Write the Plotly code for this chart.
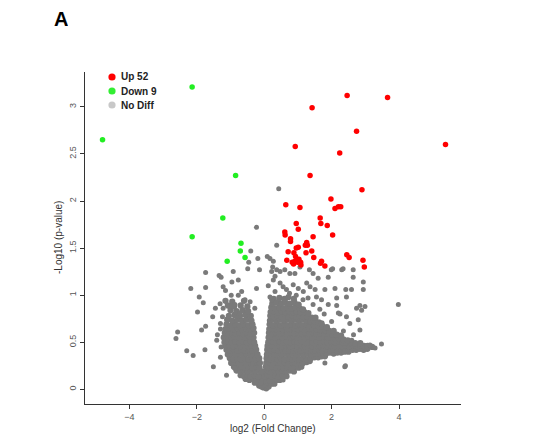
import plotly.graph_objects as go

# significant genes
up_x = [2.46, 3.66, 1.42, 2.74, 0.92, 2.24, 5.38, 1.36, 2.90, 1.98, 0.64, 1.06, 2.10,
        2.20, 2.27, 1.66, 1.68, 1.87, 0.95, 1.01, 2.03, 0.61, 0.62, 1.45, 0.78, 0.78,
        1.26, 1.22, 1.28, 0.95, 1.01, 0.71, 0.88, 0.93, 1.24, 1.41, 1.47, 2.45, 2.52,
        0.67, 0.83, 0.91, 0.99, 1.08, 1.09, 1.70, 1.67, 1.80, 2.93, 2.97, 0.87, 1.03]
up_y = [3.12, 3.10, 2.99, 2.74, 2.58, 2.51, 2.60, 2.27, 2.12, 2.02, 1.96, 1.93, 1.92,
        1.94, 1.94, 1.82, 1.76, 1.74, 1.76, 1.70, 1.64, 1.67, 1.64, 1.62, 1.60, 1.57,
        1.56, 1.53, 1.53, 1.50, 1.51, 1.46, 1.45, 1.41, 1.45, 1.47, 1.40, 1.43, 1.40,
        1.37, 1.35, 1.36, 1.35, 1.35, 1.32, 1.36, 1.34, 1.31, 1.37, 1.30, 1.33, 1.38]

down_x = [-2.14, -4.80, -0.85, -1.23, -2.14, -0.69, -0.71, -0.57, -1.10]
down_y = [3.21, 2.65, 2.27, 1.82, 1.62, 1.55, 1.47, 1.40, 1.36]

# no diff: dense right arm of the cloud
nodiff_right = [
    (-0.02, 0.02), (0.06, 0.01), (0.13, 0.03),
    (-0.08, 0.06), (0.02, 0.05), (0.12, 0.07), (0.21, 0.06), (0.30, 0.06),
    (-0.12, 0.10), (-0.03, 0.11), (0.06, 0.10), (0.17, 0.09), (0.27, 0.11), (0.37, 0.10), (0.46, 0.10),
    (-0.06, 0.15), (0.02, 0.14), (0.11, 0.15), (0.22, 0.14), (0.33, 0.15), (0.44, 0.14), (0.55, 0.15),
    (0.66, 0.14),
    (0.03, 0.19), (0.10, 0.20), (0.21, 0.19), (0.32, 0.20), (0.43, 0.19), (0.54, 0.20), (0.65, 0.19),
    (0.76, 0.20), (0.88, 0.19),
    (0.05, 0.24), (0.14, 0.23), (0.25, 0.24), (0.36, 0.23), (0.47, 0.24), (0.58, 0.23), (0.69, 0.24),
    (0.80, 0.23), (0.91, 0.24), (1.02, 0.23), (1.10, 0.24),
    (0.06, 0.28), (0.16, 0.29), (0.27, 0.28), (0.38, 0.29), (0.49, 0.28), (0.60, 0.29), (0.71, 0.28),
    (0.82, 0.29), (0.93, 0.28), (1.04, 0.29), (1.15, 0.28), (1.26, 0.29), (1.35, 0.30),
    (0.07, 0.33), (0.17, 0.32), (0.28, 0.33), (0.39, 0.32), (0.50, 0.33), (0.61, 0.32), (0.72, 0.33),
    (0.83, 0.32), (0.94, 0.33), (1.05, 0.32), (1.16, 0.33), (1.27, 0.32), (1.38, 0.33), (1.49, 0.34),
    (1.60, 0.34), (1.70, 0.35), (1.80, 0.35),
    (0.08, 0.37), (0.19, 0.38), (0.30, 0.37), (0.41, 0.38), (0.52, 0.37), (0.63, 0.38), (0.74, 0.37),
    (0.85, 0.38), (0.96, 0.37), (1.07, 0.38), (1.18, 0.37), (1.29, 0.38), (1.40, 0.37), (1.51, 0.38),
    (1.62, 0.38), (1.73, 0.39), (1.84, 0.38), (1.95, 0.39), (2.06, 0.38), (2.17, 0.39), (2.28, 0.39),
    (2.39, 0.40), (2.50, 0.40),
    (0.09, 0.42), (0.20, 0.41), (0.31, 0.42), (0.42, 0.41), (0.53, 0.42), (0.64, 0.41), (0.75, 0.42),
    (0.86, 0.41), (0.97, 0.42), (1.08, 0.41), (1.19, 0.42), (1.30, 0.41), (1.41, 0.42), (1.52, 0.41),
    (1.63, 0.42), (1.74, 0.41), (1.85, 0.42), (1.96, 0.41), (2.07, 0.42), (2.18, 0.41), (2.29, 0.42),
    (2.40, 0.41), (2.51, 0.42), (2.62, 0.42), (2.73, 0.42), (2.84, 0.43), (2.95, 0.42), (3.06, 0.43),
    (0.10, 0.46), (0.21, 0.47), (0.32, 0.46), (0.43, 0.47), (0.54, 0.46), (0.65, 0.47), (0.76, 0.46),
    (0.87, 0.47), (0.98, 0.46), (1.09, 0.47), (1.20, 0.46), (1.31, 0.47), (1.42, 0.46), (1.53, 0.47),
    (1.64, 0.46), (1.75, 0.47), (1.86, 0.46), (1.97, 0.47), (2.08, 0.46), (2.19, 0.47), (2.30, 0.46),
    (2.41, 0.47), (2.52, 0.46), (2.63, 0.47), (2.74, 0.46), (2.85, 0.47), (2.96, 0.46), (3.07, 0.46),
    (3.20, 0.45),
    (0.12, 0.50), (0.23, 0.51), (0.34, 0.50), (0.45, 0.51), (0.56, 0.50), (0.67, 0.51), (0.78, 0.50),
    (0.89, 0.51), (1.00, 0.50), (1.11, 0.51), (1.22, 0.50), (1.33, 0.51), (1.44, 0.50), (1.55, 0.51),
    (1.66, 0.50), (1.77, 0.51), (1.88, 0.50), (1.99, 0.51), (2.10, 0.50), (2.21, 0.51), (2.32, 0.50),
    (2.43, 0.50), (2.55, 0.50), (2.70, 0.49), (2.85, 0.49),
    (0.13, 0.55), (0.22, 0.56), (0.33, 0.55), (0.44, 0.56), (0.55, 0.55), (0.66, 0.56), (0.77, 0.55),
    (0.88, 0.56), (0.99, 0.55), (1.10, 0.56), (1.21, 0.55), (1.32, 0.56), (1.43, 0.55), (1.54, 0.56),
    (1.65, 0.55), (1.76, 0.56), (1.87, 0.55), (1.98, 0.55), (2.10, 0.54), (2.22, 0.54), (2.35, 0.53),
    (2.48, 0.52),
    (0.14, 0.60), (0.24, 0.59), (0.35, 0.60), (0.46, 0.59), (0.57, 0.60), (0.68, 0.59), (0.79, 0.60),
    (0.90, 0.59), (1.01, 0.60), (1.12, 0.59), (1.23, 0.60), (1.34, 0.59), (1.45, 0.60), (1.56, 0.59),
    (1.67, 0.60), (1.78, 0.59), (1.90, 0.59), (2.02, 0.58), (2.15, 0.58), (2.28, 0.57),
    (0.15, 0.64), (0.23, 0.65), (0.34, 0.64), (0.45, 0.65), (0.56, 0.64), (0.67, 0.65), (0.78, 0.64),
    (0.89, 0.65), (1.00, 0.64), (1.11, 0.65), (1.22, 0.64), (1.33, 0.65), (1.44, 0.64), (1.55, 0.64),
    (1.67, 0.63), (1.80, 0.63), (1.93, 0.62), (2.06, 0.62),
    (0.16, 0.69), (0.26, 0.68), (0.37, 0.69), (0.48, 0.68), (0.59, 0.69), (0.70, 0.68), (0.81, 0.69),
    (0.92, 0.68), (1.03, 0.69), (1.14, 0.68), (1.25, 0.69), (1.36, 0.68), (1.48, 0.68), (1.60, 0.67),
    (1.73, 0.67), (1.86, 0.66),
    (0.17, 0.73), (0.27, 0.74), (0.38, 0.73), (0.49, 0.74), (0.60, 0.73), (0.71, 0.74), (0.82, 0.73),
    (0.93, 0.74), (1.04, 0.73), (1.15, 0.74), (1.26, 0.73), (1.38, 0.72), (1.50, 0.72), (1.62, 0.71),
    (1.70, 0.70),
    (0.18, 0.78), (0.29, 0.77), (0.40, 0.78), (0.51, 0.77), (0.62, 0.78), (0.73, 0.77), (0.84, 0.78),
    (0.95, 0.77), (1.06, 0.78), (1.17, 0.77), (1.29, 0.77), (1.41, 0.76), (1.52, 0.76),
    (0.19, 0.82), (0.30, 0.83), (0.41, 0.82), (0.52, 0.83), (0.63, 0.82), (0.74, 0.83), (0.85, 0.82),
    (0.96, 0.83), (1.07, 0.82), (1.19, 0.82), (1.31, 0.81),
    (0.21, 0.87), (0.33, 0.86), (0.45, 0.87), (0.57, 0.86), (0.69, 0.87), (0.81, 0.86), (0.93, 0.87),
    (1.05, 0.86), (1.15, 0.85),
    (0.24, 0.91), (0.37, 0.92), (0.50, 0.91), (0.63, 0.92), (0.76, 0.91), (0.90, 0.92), (1.02, 0.90),
    (0.28, 0.96), (0.45, 0.97), (0.60, 0.96), (0.72, 0.98), (0.88, 0.96),
]

# no diff: dense left arm
nodiff_left = [
    (-0.15, 0.04), (-0.08, 0.03),
    (-0.28, 0.07), (-0.20, 0.08), (-0.12, 0.07),
    (-0.55, 0.11), (-0.44, 0.10), (-0.33, 0.11), (-0.24, 0.10),
    (-0.70, 0.15), (-0.60, 0.14), (-0.50, 0.15), (-0.40, 0.14), (-0.30, 0.15), (-0.18, 0.14),
    (-0.82, 0.20), (-0.71, 0.19), (-0.60, 0.20), (-0.49, 0.19), (-0.38, 0.20), (-0.27, 0.19),
    (-0.16, 0.20), (-0.08, 0.19),
    (-0.90, 0.24), (-0.79, 0.23), (-0.68, 0.24), (-0.57, 0.23), (-0.46, 0.24), (-0.35, 0.23),
    (-0.24, 0.24), (-0.14, 0.23),
    (-0.98, 0.28), (-0.87, 0.29), (-0.76, 0.28), (-0.65, 0.29), (-0.54, 0.28), (-0.43, 0.29),
    (-0.32, 0.28), (-0.21, 0.29), (-0.13, 0.28),
    (-1.02, 0.33), (-0.91, 0.32), (-0.80, 0.33), (-0.69, 0.32), (-0.58, 0.33), (-0.47, 0.32),
    (-0.36, 0.33), (-0.25, 0.32), (-0.15, 0.33),
    (-1.08, 0.37), (-0.97, 0.38), (-0.86, 0.37), (-0.75, 0.38), (-0.64, 0.37), (-0.53, 0.38),
    (-0.42, 0.37), (-0.31, 0.38), (-0.20, 0.37),
    (-1.12, 0.42), (-1.01, 0.41), (-0.90, 0.42), (-0.79, 0.41), (-0.68, 0.42), (-0.57, 0.41),
    (-0.46, 0.42), (-0.35, 0.41), (-0.24, 0.42),
    (-1.15, 0.46), (-1.04, 0.47), (-0.93, 0.46), (-0.82, 0.47), (-0.71, 0.46), (-0.60, 0.47),
    (-0.49, 0.46), (-0.38, 0.47), (-0.27, 0.46),
    (-1.18, 0.50), (-1.07, 0.51), (-0.96, 0.50), (-0.85, 0.51), (-0.74, 0.50), (-0.63, 0.51),
    (-0.52, 0.50), (-0.41, 0.51), (-0.30, 0.50),
    (-1.20, 0.55), (-1.09, 0.56), (-0.98, 0.55), (-0.87, 0.56), (-0.76, 0.55), (-0.65, 0.56),
    (-0.54, 0.55), (-0.43, 0.56), (-0.32, 0.55),
    (-1.17, 0.60), (-1.06, 0.59), (-0.95, 0.60), (-0.84, 0.59), (-0.73, 0.60), (-0.62, 0.59),
    (-0.51, 0.60), (-0.40, 0.59), (-0.30, 0.60),
    (-1.15, 0.64), (-1.03, 0.65), (-0.91, 0.64), (-0.79, 0.65), (-0.67, 0.64), (-0.55, 0.65),
    (-0.43, 0.64), (-0.32, 0.65),
    (-1.12, 0.69), (-0.99, 0.68), (-0.86, 0.69), (-0.73, 0.68), (-0.60, 0.69), (-0.47, 0.68),
    (-0.35, 0.69),
    (-1.10, 0.74), (-0.95, 0.73), (-0.80, 0.74), (-0.66, 0.73), (-0.52, 0.74), (-0.38, 0.73),
    (-1.05, 0.78), (-0.88, 0.79), (-0.72, 0.78), (-0.56, 0.79), (-0.40, 0.78),
    (-1.00, 0.84), (-0.82, 0.83), (-0.64, 0.84), (-0.48, 0.83),
    (-1.08, 0.89), (-0.90, 0.88), (-0.70, 0.89), (-0.50, 0.88),
    (-1.15, 0.94), (-0.95, 0.93), (-0.60, 0.94),
]

# no diff: scattered outliers
nodiff_sparse = [
    (-2.62, 0.54), (-2.57, 0.61), (-2.30, 0.41), (-2.11, 0.36), (-2.18, 1.07), (-1.74, 1.24),
    (-1.74, 1.08), (-1.93, 0.98), (-1.98, 0.82), (-1.81, 0.92), (-1.74, 0.67), (-1.86, 0.63),
    (-1.76, 0.42), (-1.53, 0.77), (-1.51, 0.24), (-1.34, 1.21), (-1.28, 1.19), (-0.92, 1.25),
    (-1.12, 0.15), (-0.87, 0.22), (-1.41, 0.52), (-1.39, 0.58), (-1.22, 1.09), (-1.15, 1.05),
    (-0.96, 1.14), (-0.77, 1.16), (-0.67, 1.04), (-0.77, 1.00), (-0.23, 1.07), (-1.31, 0.91),
    (-1.22, 0.86), (-0.97, 0.89), (-0.87, 0.90), (-0.57, 0.95), (-0.42, 0.93), (-0.28, 0.86),
    (-1.24, 0.77), (-1.30, 0.70), (-0.72, 0.81), (-0.23, 1.72), (-0.40, 1.47), (-0.46, 1.35),
    (-0.49, 1.28), (-0.19, 1.39), (-0.14, 1.27), (-1.45, 0.86), (-1.30, 0.64), (-1.28, 0.45),
    (-1.30, 0.34), (-0.98, 1.00),
    (0.43, 2.13), (0.37, 1.53), (0.09, 1.41), (0.17, 1.39), (0.27, 1.36), (0.25, 1.30),
    (0.37, 1.27), (0.47, 1.25), (0.61, 1.27), (0.76, 1.23), (0.91, 1.23), (1.06, 1.30),
    (1.34, 1.27), (1.45, 1.23), (1.60, 1.18), (1.90, 1.19), (2.03, 1.28), (2.30, 1.27),
    (2.64, 1.27), (2.42, 1.06), (2.59, 1.06), (2.64, 1.19), (2.94, 1.14), (1.80, 1.06),
    (2.10, 1.07), (2.15, 0.97), (0.47, 1.13), (0.56, 1.09), (0.66, 1.06), (0.86, 1.11),
    (1.01, 1.07), (1.16, 1.04), (1.26, 1.13), (1.36, 1.09), (1.51, 1.06), (0.27, 1.16),
    (0.32, 1.04), (0.22, 0.95), (2.15, 0.89), (2.25, 0.80), (2.84, 0.89), (2.89, 0.84),
    (2.79, 0.74), (2.84, 0.63), (2.44, 0.77), (2.54, 0.70), (2.39, 0.24), (1.80, 0.28),
    (0.56, 0.10), (3.04, 0.46), (3.29, 0.44), (3.48, 0.48), (3.14, 0.47), (3.98, 0.90),
    (2.41, 0.25), (2.94, 1.06), (2.74, 0.86), (2.99, 0.88), (2.20, 0.81), (2.44, 0.98),
    (1.99, 1.27), (2.34, 1.28), (0.22, 1.25), (0.32, 1.20), (0.17, 0.98), (0.12, 1.10),
    (1.70, 0.95), (1.90, 0.90), (1.55, 0.98), (1.30, 0.97), (1.15, 0.95), (2.00, 0.72),
    (2.35, 0.62), (2.65, 0.58), (2.60, 0.52), (0.95, 1.00), (0.75, 1.02), (1.65, 0.85),
    (1.45, 0.90), (1.78, 0.80),
]

legend_labels = ["Up 52", "Down 9", "No Diff"]
legend_colors = ["#ff0000", "#33ee33", "#c8c8c8"]

dense_pts = nodiff_right + nodiff_left

fig = go.Figure()
fig.add_trace(go.Scatter(x=[p[0] for p in dense_pts], y=[p[1] for p in dense_pts],
                         mode="markers", name="No Diff",
                         marker=dict(color="#7a7a7a", size=6.3, line=dict(width=0))))
fig.add_trace(go.Scatter(x=[p[0] for p in nodiff_sparse], y=[p[1] for p in nodiff_sparse],
                         mode="markers", name="No Diff",
                         marker=dict(color="#7a7a7a", size=5, line=dict(width=0))))
fig.add_trace(go.Scatter(x=down_x, y=down_y, mode="markers", name="Down 9",
                         marker=dict(color="#22ee22", size=5.5, line=dict(width=0))))
fig.add_trace(go.Scatter(x=up_x, y=up_y, mode="markers", name="Up 52",
                         marker=dict(color="#ff0000", size=5.5, line=dict(width=0))))

# plot area in page pixels: x 85..461, y 72..404 (page has an 8px body margin)
W, H = 376.0, 332.0

# hand-built legend (tight spacing like the original)
for i, (lab, col) in enumerate(zip(legend_labels, legend_colors)):
    yp = (404 - (77 + 14 * i)) / H
    fig.add_shape(type="circle", xref="paper", yref="paper",
                  xsizemode="pixel", ysizemode="pixel",
                  xanchor=(112 - 85) / W, yanchor=yp,
                  x0=-3.6, x1=3.6, y0=-3.6, y1=3.6,
                  fillcolor=col, line=dict(width=0))
    fig.add_annotation(x=(119 - 85) / W, y=yp, xref="paper", yref="paper",
                       text="<b>%s</b>" % lab, showarrow=False,
                       xanchor="left", yanchor="middle",
                       font=dict(size=10, color="#222222"))

# panel letter, box kept inside the page
fig.add_annotation(x=(61 - 85) / W, y=(404 - 9) / H, xref="paper", yref="paper",
                   text="<b>A</b>", showarrow=False, xanchor="center", yanchor="top",
                   height=17, borderpad=0, valign="middle",
                   font=dict(size=20, color="#000000"))
fig.add_annotation(x=0.5, y=(404 - 428) / H, xref="paper", yref="paper",
                   text="log2 (Fold Change)", showarrow=False,
                   xanchor="center", yanchor="middle",
                   font=dict(size=10, color="#333333"))
fig.add_annotation(x=(58 - 85) / W, y=0.5, xref="paper", yref="paper",
                   text="-Log10 (p-value)", showarrow=False, textangle=-90,
                   xanchor="center", yanchor="middle",
                   font=dict(size=10, color="#333333"))

fig.update_layout(
    width=550, height=438,
    margin=dict(l=77, r=97, t=64, b=42, autoexpand=False),
    paper_bgcolor="white", plot_bgcolor="white",
    showlegend=False,
    font=dict(family="Liberation Sans, Arial, sans-serif", color="#333333"),
    xaxis=dict(range=[-5.32, 5.84], tickvals=[-4, -2, 0, 2, 4], showgrid=False,
               zeroline=False, showline=True, linecolor="#333333", linewidth=1,
               ticks="outside", ticklen=4, tickcolor="#333333", automargin=False,
               tickfont=dict(size=9, color="#555555")),
    yaxis=dict(range=[-0.156, 3.37], tickvals=[0, 0.5, 1, 1.5, 2, 2.5, 3],
               ticktext=["0", "0.5", "1", "1.5", "2", "2.5", "3"],
               showgrid=False, zeroline=False, showline=True, linecolor="#333333",
               linewidth=1, ticks="outside", ticklen=4, tickcolor="#333333",
               automargin=False, tickangle=-90, tickfont=dict(size=9, color="#555555")),
)

fig.write_html("out.html")
